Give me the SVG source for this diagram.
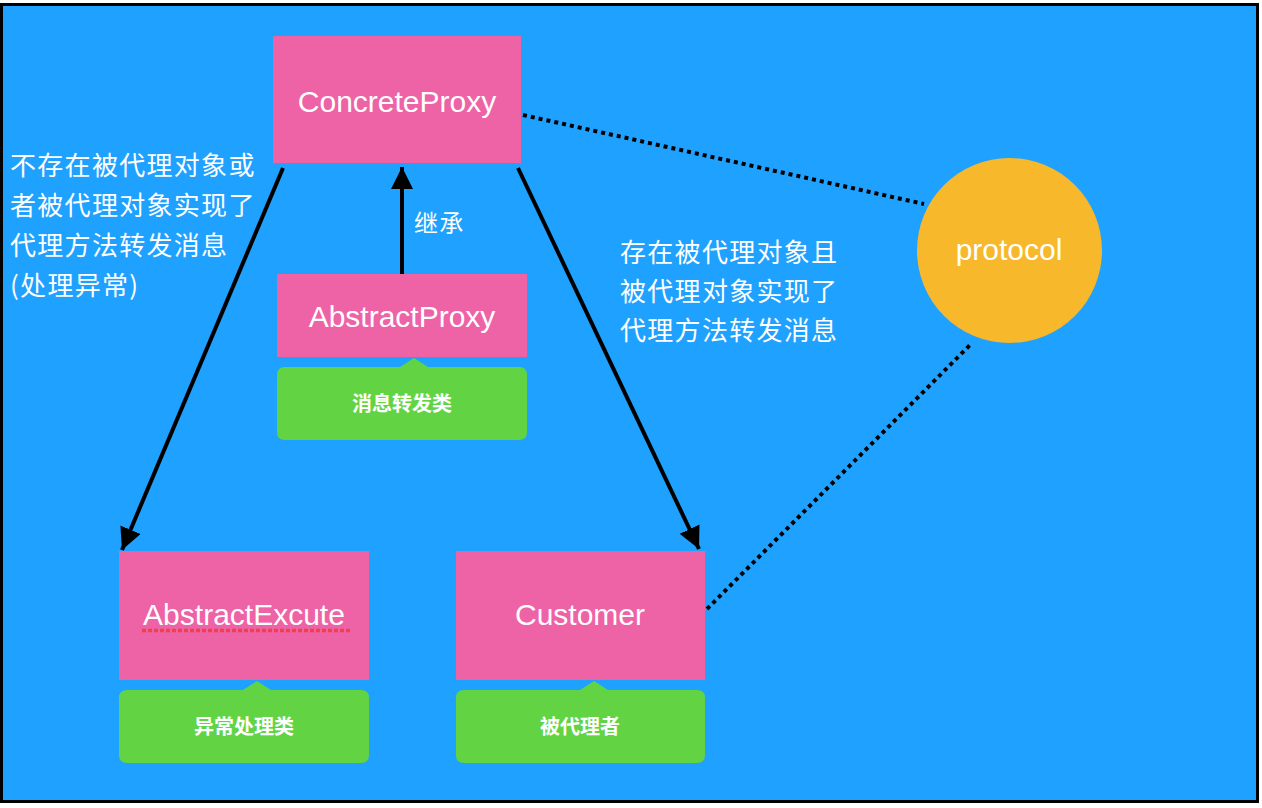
<svg xmlns="http://www.w3.org/2000/svg" width="1262" height="808" viewBox="0 0 1262 808">
<style>
.box{fill:#EE62A6}
.note{fill:#62D444}
.t{fill:#fff;font-family:"Liberation Sans",Arial,sans-serif;font-size:30px;text-anchor:middle}
.n{fill:#fff;font-family:"Noto Sans CJK SC",sans-serif;font-size:20px;font-weight:bold;text-anchor:middle}
.lbl{fill:#fff;font-family:"Noto Sans CJK SC",sans-serif;font-size:26px;letter-spacing:1.3px}
.arr{stroke:#000;stroke-width:4;fill:none}
.dot{stroke:#000;stroke-width:4;fill:none;stroke-dasharray:4 4}
</style>
<defs>
<marker id="ah" markerUnits="userSpaceOnUse" markerWidth="24" markerHeight="24" refX="22" refY="11" orient="auto">
<path d="M0,0 L22,11 L0,22 z" fill="#000"/>
</marker>
</defs>
<rect x="0" y="0" width="1262" height="808" fill="#fff"/>
<rect x="1.5" y="4.5" width="1256" height="797" fill="#1EA1FF" stroke="#000" stroke-width="3"/>

<g id="connectors">
<line class="arr" x1="283" y1="168" x2="122" y2="550" marker-end="url(#ah)"/>
<line class="arr" x1="518" y1="168" x2="699" y2="549" marker-end="url(#ah)"/>
<line class="arr" x1="402" y1="274" x2="402" y2="167" marker-end="url(#ah)"/>
<line class="dot" x1="523" y1="115" x2="924" y2="204"/>
<line class="dot" x1="707" y1="609" x2="970" y2="345"/>
</g>

<g id="ConcreteProxy">
<rect class="box" x="273" y="36" width="248" height="127"/>
<text class="t" x="397" y="112">ConcreteProxy</text>
</g>

<g id="AbstractProxy">
<rect class="box" x="277" y="274" width="250" height="83"/>
<text class="t" x="402" y="327">AbstractProxy</text>
</g>
<g id="note-AbstractProxy">
<path class="note" d="M285,367 H400 L414,358 L428,367 H519 Q527,367 527,375 V432 Q527,440 519,440 H285 Q277,440 277,432 V375 Q277,367 285,367 Z"/>
<text class="n" x="402" y="411">消息转发类</text>
</g>

<g id="AbstractExcute">
<rect class="box" x="119" y="551" width="250" height="129"/>
<text class="t" x="244" y="625">AbstractExcute</text>
<line x1="142" y1="630.5" x2="352" y2="630.5" stroke="#F0404E" stroke-width="3.5" stroke-dasharray="4 2"/>
</g>
<g id="note-AbstractExcute">
<path class="note" d="M127,690 H243 L257,681 L271,690 H361 Q369,690 369,698 V755 Q369,763 361,763 H127 Q119,763 119,755 V698 Q119,690 127,690 Z"/>
<text class="n" x="244" y="734">异常处理类</text>
</g>

<g id="Customer">
<rect class="box" x="456" y="551" width="249" height="129"/>
<text class="t" x="580" y="625">Customer</text>
</g>
<g id="note-Customer">
<path class="note" d="M464,690 H580 L594,681 L608,690 H697 Q705,690 705,698 V755 Q705,763 697,763 H464 Q456,763 456,755 V698 Q456,690 464,690 Z"/>
<text class="n" x="580" y="734">被代理者</text>
</g>

<g id="protocol">
<circle cx="1009.5" cy="250.5" r="92.5" fill="#F7B82B"/>
<text class="t" x="1009" y="260">protocol</text>
</g>

<g id="labels">
<text class="lbl" x="414" y="232" style="font-size:24px">继承</text>
<text class="lbl" x="10" y="175">不存在被代理对象或</text>
<text class="lbl" x="10" y="215">者被代理对象实现了</text>
<text class="lbl" x="10" y="255">代理方法转发消息</text>
<text class="lbl" x="10" y="295">(处理异常)</text>
<text class="lbl" x="620" y="262">存在被代理对象且</text>
<text class="lbl" x="620" y="301">被代理对象实现了</text>
<text class="lbl" x="620" y="340">代理方法转发消息</text>
</g>
</svg>
